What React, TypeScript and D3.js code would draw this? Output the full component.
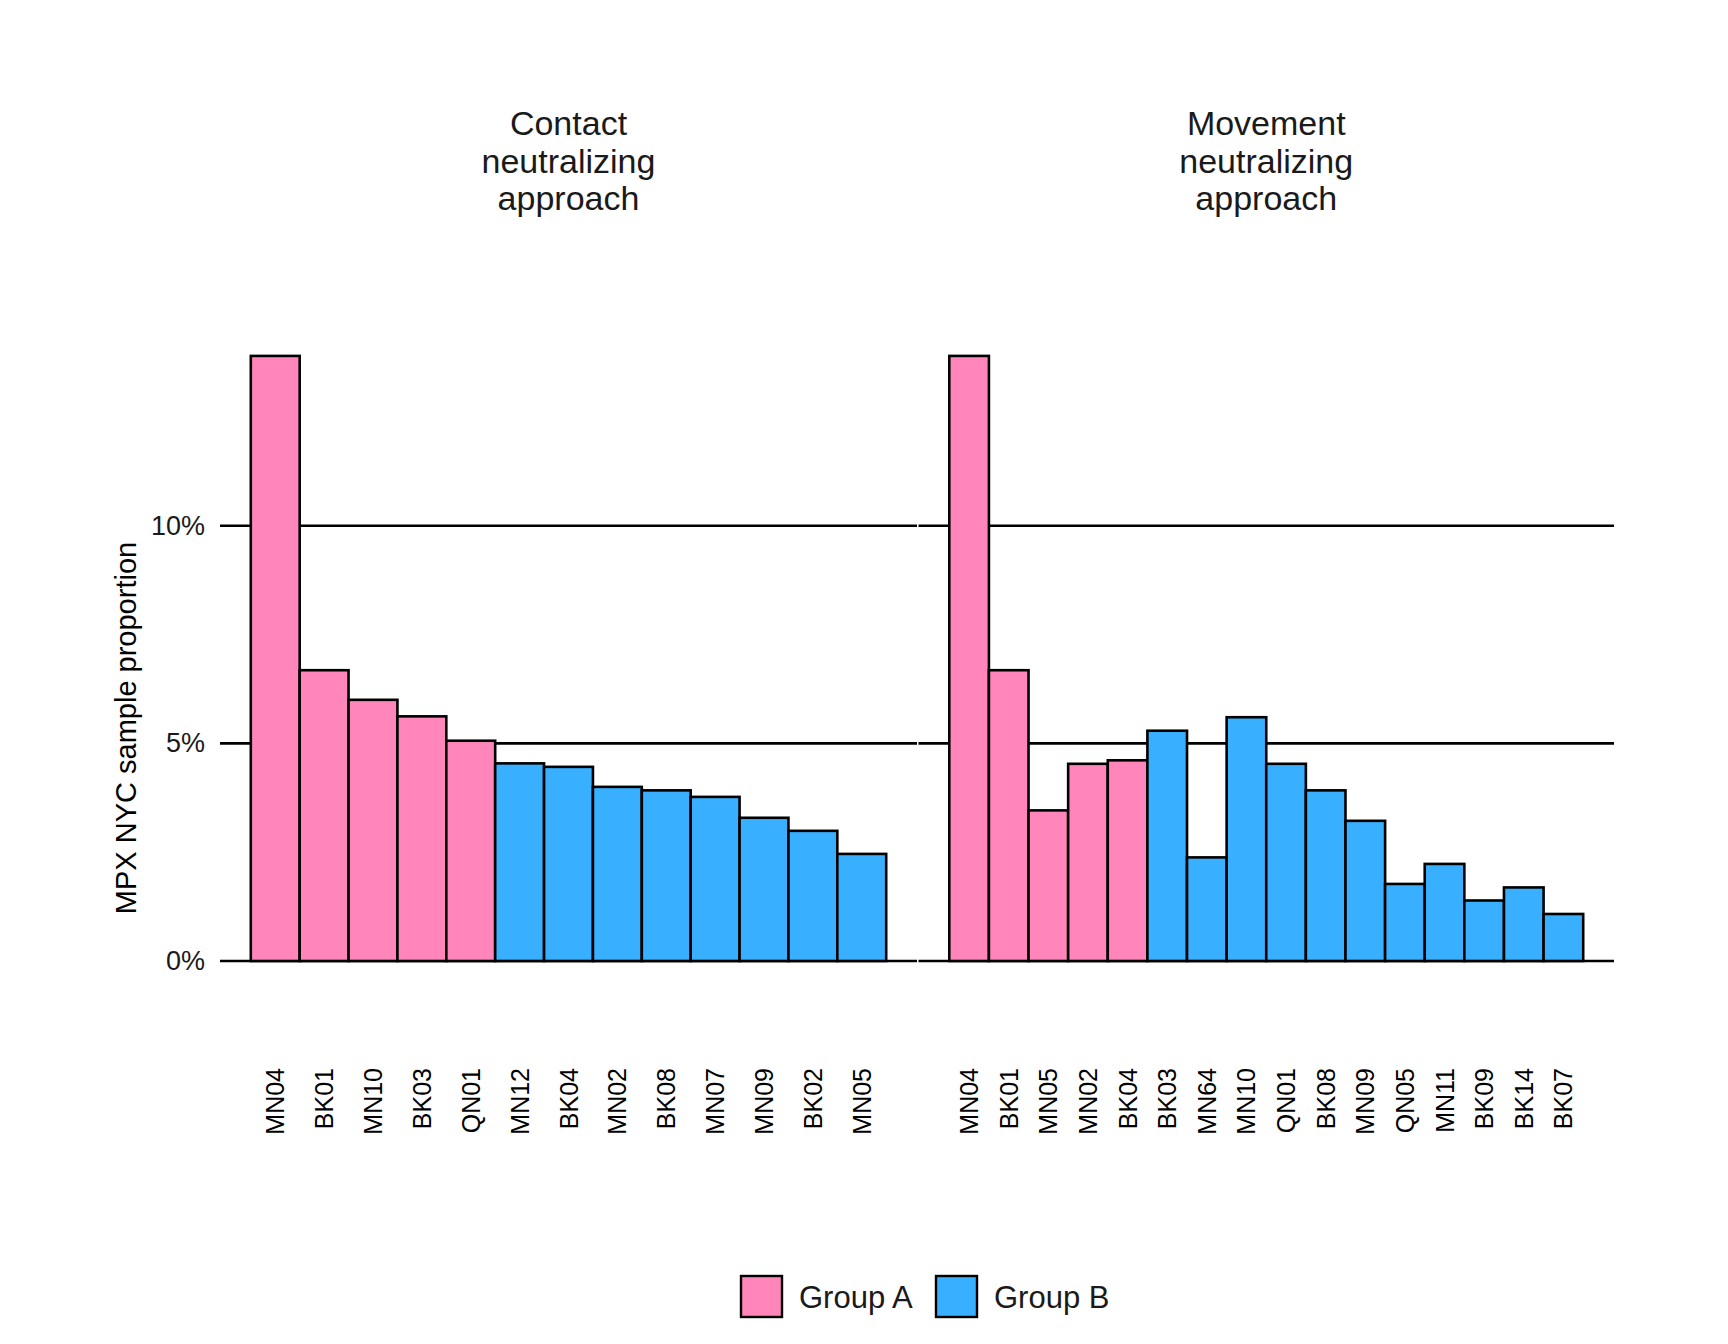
import * as d3 from "d3";
import React, { useEffect, useRef } from "react";

// site codes and their share of NYC MPX samples (%), per approach
const contactSites = ["MN04", "BK01", "MN10", "BK03", "QN01", "MN12", "BK04", "MN02", "BK08", "MN07", "MN09", "BK02", "MN05"];
const contactValues = [13.9, 6.68, 6.0, 5.62, 5.06, 4.54, 4.46, 4.0, 3.92, 3.77, 3.29, 2.99, 2.46];
const contactGroups = ["A", "A", "A", "A", "A", "B", "B", "B", "B", "B", "B", "B", "B"];

const movementSites = ["MN04", "BK01", "MN05", "MN02", "BK04", "BK03", "MN64", "MN10", "QN01", "BK08", "MN09", "QN05", "MN11", "BK09", "BK14", "BK07"];
const movementValues = [13.9, 6.68, 3.46, 4.53, 4.61, 5.29, 2.38, 5.6, 4.53, 3.92, 3.22, 1.77, 2.23, 1.39, 1.69, 1.08];
const movementGroups = ["A", "A", "A", "A", "A", "B", "B", "B", "B", "B", "B", "B", "B", "B", "B", "B"];

const panelTitles = [
    ["Contact", "neutralizing", "approach"],
    ["Movement", "neutralizing", "approach"],
];
const yTicks = [0, 5, 10];
const groupNames = ["A", "B"];
const groupLabels = ["Group A", "Group B"];
const groupColors = ["#ff85bb", "#38b0ff"];

const W = 1728;
const H = 1344;
const FONT = "'Liberation Sans', Arial, Helvetica, sans-serif";

interface Panel {
    sites: string[];
    values: number[];
    groups: string[];
    x0: number;
    x1: number;
    title: string[];
}

const panels: Panel[] = [
    { sites: contactSites, values: contactValues, groups: contactGroups, x0: 220, x1: 917, title: panelTitles[0] },
    { sites: movementSites, values: movementValues, groups: movementGroups, x0: 918.5, x1: 1614, title: panelTitles[1] },
];

const App: React.FC = () => {
    const svgRef = useRef<SVGSVGElement>(null);

    useEffect(() => {
        if (!svgRef.current) return;
        const svg = d3.select(svgRef.current);
        svg.selectAll("*").remove();

        const yScale = d3.scaleLinear().domain([0, 14.5]).range([961, 329.8]);
        const color = d3.scaleOrdinal<string, string>().domain(groupNames).range(groupColors);
        const pad = 30.8;

        panels.forEach((p) => {
            const g = svg.append("g");
            const xScale = d3
                .scaleBand<string>()
                .domain(p.sites)
                .range([p.x0 + pad, p.x1 - pad])
                .padding(0);

            // horizontal grid lines
            g.selectAll("line.grid")
                .data(yTicks)
                .enter()
                .append("line")
                .attr("x1", p.x0)
                .attr("x2", p.x1)
                .attr("y1", (d) => yScale(d))
                .attr("y2", (d) => yScale(d))
                .attr("stroke", "#000")
                .attr("stroke-width", 2.6);

            // bars
            g.selectAll("rect.bar")
                .data(p.sites)
                .enter()
                .append("rect")
                .attr("x", (d) => xScale(d) as number)
                .attr("width", xScale.bandwidth())
                .attr("y", (_d, i) => yScale(p.values[i]))
                .attr("height", (_d, i) => yScale(0) - yScale(p.values[i]))
                .attr("fill", (_d, i) => color(p.groups[i]))
                .attr("stroke", "#000")
                .attr("stroke-width", 2.6);

            // x tick labels, rotated
            g.selectAll("text.xlab")
                .data(p.sites)
                .enter()
                .append("text")
                .attr("transform", (d) => `translate(${(xScale(d) as number) + xScale.bandwidth() / 2},1068) rotate(-90)`)
                .attr("text-anchor", "end")
                .attr("dominant-baseline", "central")
                .attr("font-family", FONT)
                .attr("font-size", 25)
                .attr("fill", "#000")
                .text((d) => d);

            // strip title
            const cx = (p.x0 + p.x1) / 2;
            g.selectAll("text.title")
                .data(p.title)
                .enter()
                .append("text")
                .attr("x", cx)
                .attr("y", (_d, i) => 135 + i * 37.7)
                .attr("text-anchor", "middle")
                .attr("font-family", FONT)
                .attr("font-size", 34)
                .attr("fill", "#1a1a1a")
                .text((d) => d);
        });

        // y axis labels
        svg.selectAll("text.ylab")
            .data(yTicks)
            .enter()
            .append("text")
            .attr("x", 205)
            .attr("y", (d) => yScale(d))
            .attr("text-anchor", "end")
            .attr("dominant-baseline", "central")
            .attr("font-family", FONT)
            .attr("font-size", 27)
            .attr("fill", "#1a1a1a")
            .text((d) => `${d}%`);

        svg.append("text")
            .attr("transform", "translate(126,728) rotate(-90)")
            .attr("text-anchor", "middle")
            .attr("dominant-baseline", "central")
            .attr("font-family", FONT)
            .attr("font-size", 29)
            .attr("fill", "#000")
            .text("MPX NYC sample proportion");

        // legend
        const legendX = [741, 936];
        const legend = svg
            .selectAll("g.legend")
            .data(groupNames)
            .enter()
            .append("g")
            .attr("transform", (_d, i) => `translate(${legendX[i]},1276)`);
        legend
            .append("rect")
            .attr("width", 41)
            .attr("height", 41)
            .attr("fill", (d) => color(d))
            .attr("stroke", "#000")
            .attr("stroke-width", 2.4);
        legend
            .append("text")
            .attr("x", 58)
            .attr("y", 21)
            .attr("dominant-baseline", "central")
            .attr("font-family", FONT)
            .attr("font-size", 31)
            .attr("fill", "#1a1a1a")
            .text((_d, i) => groupLabels[i]);
    }, []);

    return (
        <svg
            ref={svgRef}
            width={W}
            height={H}
            style={{ position: "absolute", left: 0, top: 0, background: "#fff", display: "block" }}
        />
    );
};

export default App;
